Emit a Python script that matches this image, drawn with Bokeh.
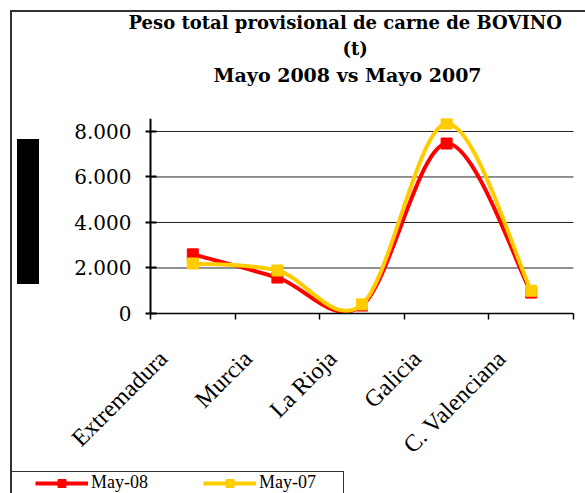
import numpy as np
from bokeh.plotting import figure
from bokeh.models import (Range1d, FixedTicker, CustomJSTickFormatter, Title, Legend,
                          LegendItem, LinearAxis, InlineStyleSheet)
from bokeh.embed import file_html
from bokeh.resources import INLINE

# ---- data ----
categories = ["Extremadura", "Murcia", "La Rioja", "Galicia", "C. Valenciana"]
may_08 = [2600, 1580, 350, 7470, 920]
may_07 = [2200, 1890, 400, 8350, 1000]
y_ticks = [0, 2000, 4000, 6000, 8000]
series_names = ["May-08", "May-07"]
series_colors = ["#FF0000", "#FFCC00"]

n_cat = len(categories)
centers = [i + 0.5 for i in range(n_cat)]
bounds = list(range(n_cat + 1))
LABEL_SHIFT = 0.35  # rotated labels sit a little left of the category centre
label_pos = [c - LABEL_SHIFT for c in centers]
Y_TOP = 8570

# plot-area geometry (pixels): axes are pinned at x=0 / y=0 inside a frame that
# also holds the tick labels and the legend
W, H = 585, 493
TOP = 118
AX_LEFT, AX_RIGHT, AX_BOTTOM = 150, 573, 313
px_per_x = (AX_RIGHT - AX_LEFT) / n_cat
px_per_y = (AX_BOTTOM - TOP) / Y_TOP
x_start = -AX_LEFT / px_per_x
x_end = n_cat + (W - AX_RIGHT) / px_per_x
y_start = -(H - AX_BOTTOM) / px_per_y


def smooth_segments(xs, ys):
    """Cubic Bezier segments (Catmull-Rom style, like a spreadsheet 'smoothed line')."""
    xs = np.asarray(xs, float)
    ys = np.asarray(ys, float)
    n = len(xs)
    px = np.concatenate([[xs[0]], xs, [xs[-1]]])
    py = np.concatenate([[ys[0]], ys, [ys[-1]]])
    x0, y0 = px[1:n], py[1:n]
    x1, y1 = px[2:n + 1], py[2:n + 1]
    cx0 = x0 + (px[2:n + 1] - px[0:n - 1]) / 6.0
    cy0 = y0 + (py[2:n + 1] - py[0:n - 1]) / 6.0
    cx1 = x1 - (px[3:n + 2] - px[1:n]) / 6.0
    cy1 = y1 - (py[3:n + 2] - py[1:n]) / 6.0
    return dict(x0=x0, y0=y0, x1=x1, y1=y1, cx0=cx0, cy0=cy0, cx1=cx1, cy1=cy1)


p = figure(width=W, height=H, output_backend="svg", toolbar_location=None,
           title=None, x_range=Range1d(x_start, x_end), y_range=Range1d(y_start, Y_TOP),
           min_border_left=0, min_border_right=0, min_border_top=TOP,
           min_border_bottom=0)
p.outline_line_color = None
p.background_fill_color = "white"
p.border_fill_color = "white"
p.xgrid.visible = False
p.ygrid.visible = False

xax = p.below[0]
yax = p.left[0]

# ---- axes ----
xax.fixed_location = 0
xax.bounds = (0, n_cat)
xax.ticker = FixedTicker(ticks=label_pos, minor_ticks=bounds)
xax.major_label_overrides = {x: name for x, name in zip(label_pos, categories)}
xax.major_label_orientation = np.pi / 4
xax.major_label_text_font = "Liberation Serif"
xax.major_label_text_font_size = "24px"
xax.major_label_text_color = "black"
xax.major_tick_in = 0
xax.major_tick_out = 0
xax.minor_tick_in = 0
xax.minor_tick_out = 6
xax.minor_tick_line_color = "black"
xax.minor_tick_line_width = 1.5
xax.axis_line_color = "black"
xax.axis_line_width = 1.5
xax.major_label_standoff = 35

yax.fixed_location = 0
yax.bounds = (0, Y_TOP)
yax.ticker = FixedTicker(ticks=y_ticks, minor_ticks=[])
yax.formatter = CustomJSTickFormatter(
    code="return tick.toFixed(0).replace(/\\B(?=(\\d{3})+(?!\\d))/g, '.');")
yax.major_label_text_font = "DejaVu Serif"
yax.major_label_text_font_size = "20px"
yax.major_label_text_color = "black"
yax.major_tick_in = 6
yax.major_tick_out = 5
yax.major_tick_line_color = "black"
yax.major_tick_line_width = 2
yax.axis_line_color = "black"
yax.axis_line_width = 2
yax.major_label_standoff = 14

# horizontal gridlines across the category area only
grid_y = [t for t in y_ticks if t > 0]
p.segment(x0=[0] * len(grid_y), x1=[n_cat] * len(grid_y), y0=grid_y, y1=grid_y,
          line_color="#222222", line_width=1)

# ---- titles (an invisible spacer axis keeps the gap above the plot) ----
spacer = LinearAxis(ticker=FixedTicker(ticks=[2.5], minor_ticks=[]), major_tick_out=32,
                    major_tick_in=0, minor_tick_out=0, minor_tick_in=0,
                    major_label_text_color=None, axis_line_color=None,
                    major_tick_line_color=None, minor_tick_line_color=None)
p.add_layout(spacer, "above")

title_font = "DejaVu Serif"
t3 = Title(text="Mayo 2008 vs Mayo 2007", align="left", offset=213,
           text_font=title_font, text_font_style="bold", text_font_size="19px",
           text_color="black", standoff=2)
p.add_layout(t3, "above")
t2 = Title(text="(t)", align="left", offset=342,
           text_font=title_font, text_font_style="bold", text_font_size="18px",
           text_color="black", standoff=3)
p.add_layout(t2, "above")
t1 = Title(text="Peso total provisional de carne de BOVINO", align="left", offset=128,
           text_font=title_font, text_font_style="bold", text_font_size="18px",
           text_color="black", standoff=3)
p.add_layout(t1, "above")

# ---- series ----
legend_items = []
for name, vals, col in zip(series_names, [may_08, may_07], series_colors):
    seg = smooth_segments(centers, vals)
    r_line = p.bezier(line_color=col, line_width=4, source=seg)
    r_mark = p.scatter(centers, vals, marker="square", size=11,
                       fill_color=col, line_color=col)
    legend_items.append(LegendItem(label=name, renderers=[r_line, r_mark]))

legend = Legend(items=legend_items, location=(35, 0), orientation="horizontal",
                label_text_font="Liberation Serif", label_text_font_size="18px",
                label_text_color="black", glyph_width=53, glyph_height=20,
                label_standoff=3, spacing=55, margin=0, padding=2,
                border_line_color=None, background_fill_alpha=0)
p.add_layout(legend)

# ---- chart border, legend frame and dark y-title block ----
css = """
:host::before { content: ""; position: absolute; left: 17px; top: 139px;
  width: 22px; height: 145px; background: #000; z-index: 50; pointer-events: none; }
:host::after { content: ""; position: absolute; left: 10px; top: 10px; right: 0; bottom: 0;
  border-left: 2px solid #333; border-top: 2px solid #333;
  background: linear-gradient(#333, #333) 0 459px / 332px 1px no-repeat,
              linear-gradient(#333, #333) 331px 459px / 1px 40px no-repeat;
  z-index: 50; pointer-events: none; }
"""
p.stylesheets = [InlineStyleSheet(css=css)]

html = file_html(p, INLINE, title="Peso total provisional de carne de BOVINO")
html = html.replace("</head>", "<style>html,body{overflow:hidden;}</style></head>", 1)
with open("out.html", "w") as f:
    f.write(html)
